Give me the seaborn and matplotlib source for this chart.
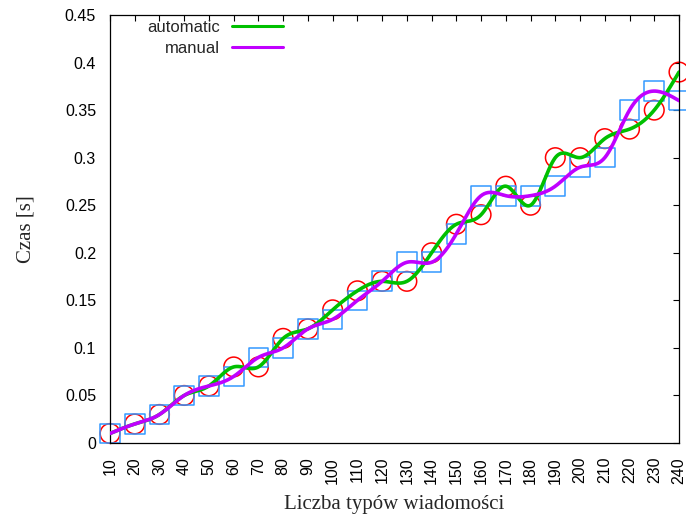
import numpy as np
import pandas as pd
import matplotlib
matplotlib.use("Agg")
import matplotlib.pyplot as plt
import seaborn as sns

# ---- data ----
counts = [10, 20, 30, 40, 50, 60, 70, 80, 90, 100, 110, 120, 130, 140, 150,
          160, 170, 180, 190, 200, 210, 220, 230, 240]
automatic = [0.01, 0.02, 0.03, 0.05, 0.06, 0.08, 0.08, 0.11, 0.12, 0.14, 0.16, 0.17,
             0.17, 0.20, 0.23, 0.24, 0.27, 0.25, 0.30, 0.30, 0.32, 0.33, 0.35, 0.39]
manual = [0.01, 0.02, 0.03, 0.05, 0.06, 0.07, 0.09, 0.10, 0.12, 0.13, 0.15, 0.17,
          0.19, 0.19, 0.22, 0.26, 0.26, 0.26, 0.27, 0.29, 0.30, 0.35, 0.37, 0.36]
y_ticks = [0, 0.05, 0.1, 0.15, 0.2, 0.25, 0.3, 0.35, 0.4, 0.45]
x_label = "Liczba typów wiadomości"
y_label = "Czas [s]"


def natural_cspline(x, y, n=600):
    x = np.asarray(x, float)
    y = np.asarray(y, float)
    m = len(x)
    h = np.diff(x)
    A = np.zeros((m, m))
    b = np.zeros(m)
    A[0, 0] = 1
    A[-1, -1] = 1
    for i in range(1, m - 1):
        A[i, i - 1] = h[i - 1]
        A[i, i] = 2 * (h[i - 1] + h[i])
        A[i, i + 1] = h[i]
        b[i] = 3 * ((y[i + 1] - y[i]) / h[i] - (y[i] - y[i - 1]) / h[i - 1])
    c = np.linalg.solve(A, b)
    bb = (np.diff(y) / h) - h * (2 * c[:-1] + c[1:]) / 3
    d = np.diff(c) / (3 * h)
    xs = np.linspace(x[0], x[-1], n)
    idx = np.clip(np.searchsorted(x, xs, side="right") - 1, 0, m - 2)
    dx = xs - x[idx]
    ys = y[idx] + bb[idx] * dx + c[idx] * dx ** 2 + d[idx] * dx ** 3
    return xs, ys


sns.set_theme(style="white")
plt.rcParams["font.family"] = ["Liberation Sans", "DejaVu Sans"]

fig = plt.figure(figsize=(6.86, 5.16), dpi=100)
ax = fig.add_axes([110 / 686, 73 / 516, 569 / 686, 428 / 516])

pts = pd.DataFrame({"x": counts, "automatic": automatic, "manual": manual})

sns.scatterplot(data=pts, x="x", y="automatic", marker="o", s=200,
                facecolor="none", edgecolor="#ff0000", linewidth=1.1,
                ax=ax, clip_on=False, zorder=2, legend=False)
sns.scatterplot(data=pts, x="x", y="manual", marker="s", s=200,
                facecolor="none", edgecolor="#3399ff", linewidth=1.1,
                ax=ax, clip_on=False, zorder=2, legend=False)

xa, ya = natural_cspline(counts, automatic)
xm, ym = natural_cspline(counts, manual)
sns.lineplot(x=xa, y=ya, color="#00c000", linewidth=2.6, ax=ax,
             label="automatic", zorder=3, sort=False)
sns.lineplot(x=xm, y=ym, color="#c000ff", linewidth=2.6, ax=ax,
             label="manual", zorder=4, sort=False)

ax.set_xlim(10, 240)
ax.set_ylim(0, 0.45)
ax.set_xticks(counts)
ax.set_xticklabels([str(c) for c in counts], rotation=90)
ax.set_yticks(y_ticks)
ax.set_yticklabels([f"{v:g}" for v in y_ticks])
ax.tick_params(axis="both", which="major", direction="in", length=4, width=0.8,
               top=True, right=True, labelsize=11.5, colors="black", pad=10)
for s in ax.spines.values():
    s.set_color("black")
    s.set_linewidth(0.9)

ax.set_xlabel(x_label, family=["Liberation Serif", "DejaVu Serif"], fontsize=15, labelpad=8)
ax.set_ylabel(y_label, family=["Liberation Serif", "DejaVu Serif"], fontsize=15, labelpad=21)

leg = ax.legend(loc="upper right", bbox_to_anchor=(283 / 686, 1 - 20 / 516),
                bbox_transform=fig.transFigure, frameon=False, markerfirst=False,
                fontsize=12, handlelength=3.05, handletextpad=0.75,
                labelspacing=0.35, borderpad=0, borderaxespad=0)
for t in leg.get_texts():
    t.set_ha("right")
for line in leg.get_lines():
    line.set_linewidth(2.2)

fig.savefig("out.png", dpi=100)
